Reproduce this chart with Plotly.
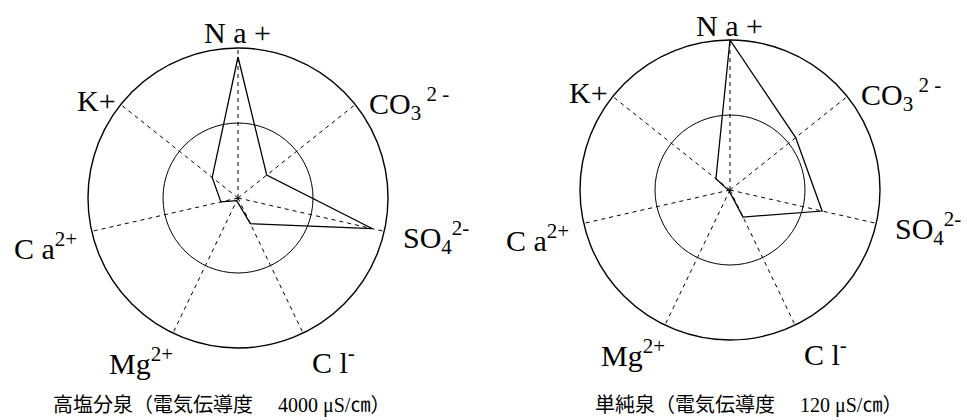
import plotly.graph_objects as go

# axes (clockwise from top)
categories = ["Na", "CO3", "SO4", "Cl", "Mg", "Ca", "K"]
axis_labels = ["N a +", "CO<sub>3</sub><sup> 2 -</sup>", "SO<sub>4</sub><sup>2-</sup>",
               "C l<sup>-</sup>", "Mg<sup>2+</sup>", "C a<sup>2+</sup>", "K+"]
# label offsets from the chart centre (px, y downward)
label_dx = [-1, 171, 198, 95, -97, -193, -142]
label_dy = [-165, -95, 39, 162, 163, 48, -98]

# relative values (outer circle = 1, inner circle = 0.5)
high_salt = [0.94, 0.245, 0.92, 0.19, 0.02, 0.117, 0.22]
simple = [1.0, 0.56, 0.63, 0.20, 0.01, 0.01, 0.12]

captions = ["高塩分泉（電気伝導度　 4000 μS/㎝）", "単純泉（電気伝導度　 120 μS/㎝）"]

W, H = 967, 420
centres = [(238, 198), (730, 190)]
RAD = 150

fig = go.Figure()

def closed(v):
    return list(v) + [v[0]]

for vals, sp in [(high_salt, "polar"), (simple, "polar2")]:
    fig.add_trace(go.Scatterpolar(r=closed(vals), theta=closed(categories), mode="lines",
                                  line=dict(color="black", width=1.3), subplot=sp,
                                  showlegend=False, hoverinfo="skip"))

def polar_layout(cx, cy, rad):
    return dict(
        domain=dict(x=[(cx - rad) / W, (cx + rad) / W],
                    y=[(H - cy - rad) / H, (H - cy + rad) / H]),
        bgcolor="white",
        radialaxis=dict(range=[0, 1], tickvals=[0.5], showticklabels=False, ticks="",
                        showline=False, gridcolor="black", gridwidth=1.3, griddash="solid"),
        angularaxis=dict(type="category", categoryarray=categories, rotation=90,
                         direction="clockwise", showticklabels=False, ticks="",
                         showline=True, linecolor="black", linewidth=1.4,
                         gridcolor="black", gridwidth=1.2, griddash="4px,4px"),
    )

annotations = []
for (cx, cy) in centres:
    for lab, dx, dy in zip(axis_labels, label_dx, label_dy):
        annotations.append(dict(text=lab, x=(cx + dx) / W, y=1 - (cy + dy) / H,
                                xref="paper", yref="paper", xanchor="center", yanchor="middle",
                                showarrow=False,
                                font=dict(family="Liberation Serif", size=30, color="black")))
cap_x = [221, 748]
for cap, x in zip(captions, cap_x):
    annotations.append(dict(text=cap, x=x / W, y=1 - 405 / H, xref="paper", yref="paper",
                            xanchor="center", yanchor="middle", showarrow=False,
                            font=dict(family="Liberation Serif, Noto Sans CJK JP", size=20,
                                      color="black")))

fig.update_layout(
    width=W, height=H,
    margin=dict(l=0, r=0, t=0, b=0),
    paper_bgcolor="white",
    polar=polar_layout(*centres[0], RAD),
    polar2=polar_layout(*centres[1], RAD),
    annotations=annotations,
)

fig.write_html("out.html", config={"displayModeBar": False},
               post_script="document.body.style.margin='0px';")
